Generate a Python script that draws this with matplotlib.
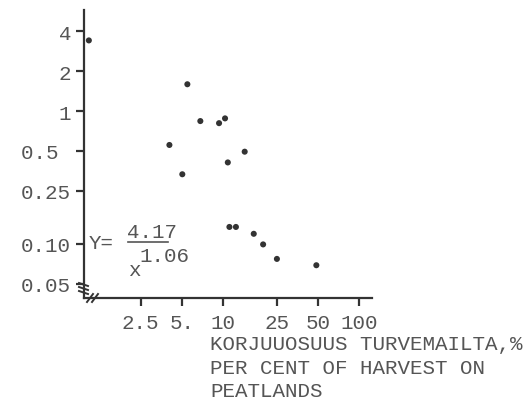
import matplotlib
matplotlib.use("Agg")
import matplotlib.pyplot as plt

# values (log-log)
harvest_pct = [1.04, 5.5, 6.85, 9.4, 10.4, 4.06, 14.5, 10.9, 5.05,
               11.2, 12.5, 16.9, 19.8, 25.0, 48.7]
value_y = [3.40, 1.59, 0.84, 0.81, 0.88, 0.555, 0.494, 0.41, 0.334,
           0.134, 0.134, 0.119, 0.099, 0.077, 0.069]

x_ticks = [2.5, 5, 10, 25, 50, 100]
x_tick_labels = ["2.5", "5.", "10", "25", "50", "100"]
y_ticks = [4, 2, 1, 0.5, 0.25, 0.10, 0.05]
y_tick_labels = ["4", "2", "1", "0.5 ", "0.25", "0.10", "0.05"]

xlabel_lines = ["KORJUUOSUUS TURVEMAILTA,%",
                "PER CENT OF HARVEST ON",
                "PEATLANDS"]

W, H = 529, 414
INK = "#333333"
TXT = "#555555"
FONT = "Liberation Mono"

plt.rcParams['font.family'] = [FONT, 'DejaVu Sans Mono']

fig = plt.figure(figsize=(W / 100, H / 100), dpi=100)
ax = fig.add_axes([83.5 / W, 1 - 299 / H, (372 - 83.5) / W, (299 - 11) / H])

ax.scatter(harvest_pct, value_y, s=19, color=INK, edgecolors="none", zorder=3)

ax.set_xscale("log")
ax.set_yscale("log")
ax.set_xlim(0.95, 124.8)
ax.set_ylim(0.0391, 5.76)

ax.minorticks_off()
ax.set_xticks(x_ticks)
ax.set_xticklabels(x_tick_labels)
ax.set_yticks(y_ticks)
ax.set_yticklabels(y_tick_labels)

for side in ("top", "right"):
    ax.spines[side].set_visible(False)
for side in ("left", "bottom"):
    ax.spines[side].set_linewidth(1.6)
    ax.spines[side].set_color(INK)

ax.tick_params(axis="both", direction="out", length=6, width=1.6,
               color=INK, labelcolor=TXT, labelsize=15, pad=3)
ax.tick_params(axis="x", pad=5)


def px(x, y):
    return x / W, 1 - y / H


# axis break marks at the corner
for dy in (0, 4, 8):
    fig.add_artist(plt.Line2D([79 / W, 88 / W],
                              [1 - (284 + dy) / H, 1 - (287 + dy) / H],
                              color=INK, lw=1.4))
for dx in (0, 5):
    fig.add_artist(plt.Line2D([(87 + dx) / W, (93 + dx) / W],
                              [1 - 303 / H, 1 - 295 / H],
                              color=INK, lw=1.4))

# regression equation
fig.text(*px(89, 244), "Y=", fontsize=15, color=TXT, va="center", ha="left")
fig.text(*px(127, 232), "4.17", fontsize=15, color=TXT, va="center", ha="left")
fig.add_artist(plt.Line2D([128 / W, 168 / W], [1 - 243 / H, 1 - 243 / H],
                          color=TXT, lw=1.2))
fig.text(*px(128, 270), "x", fontsize=15, color=TXT, va="center", ha="left")
fig.text(*px(139, 257), "1.06", fontsize=15, color=TXT, va="center", ha="left")

# x axis caption
for i, line in enumerate(xlabel_lines):
    fig.text(*px(210, 345 + i * 23.5), line, fontsize=15, color=TXT,
             va="center", ha="left")

fig.savefig("out.png", dpi=100)
